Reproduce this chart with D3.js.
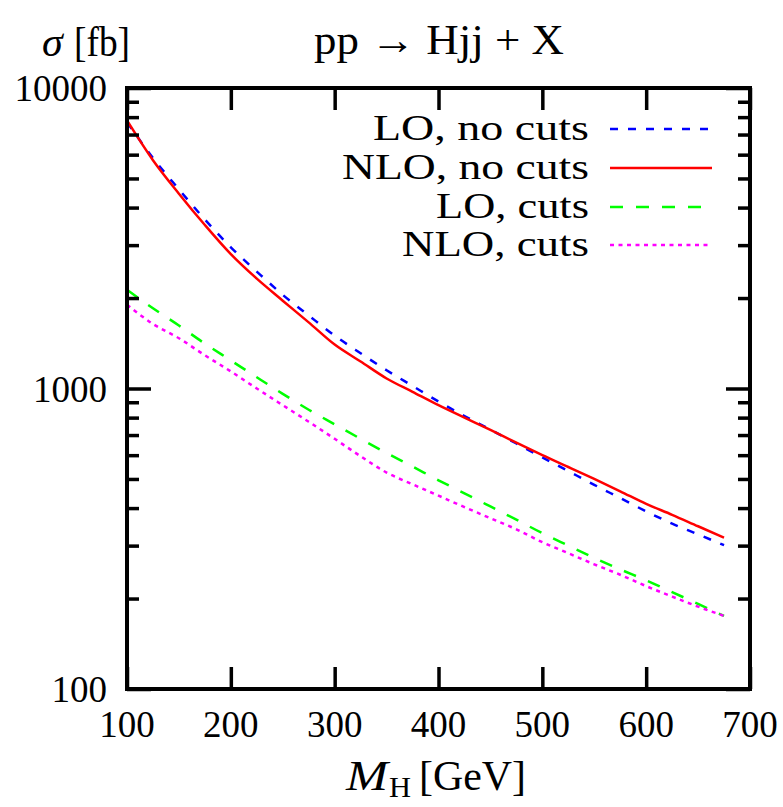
<!DOCTYPE html>
<html><head><meta charset="utf-8">
<script src="https://cdn.jsdelivr.net/npm/d3@7"></script>
<style>body{margin:0;background:#fff}svg{display:block}</style>
</head><body>
<svg id="c" width="783" height="807"></svg>
<script>
const massH = [100,125,150,175,200,225,250,275,300,325,350,375,400,425,450,475,500,525,550,575,600,625,650,675];
const loNoCuts  = [7700,5850,4600,3650,2950,2450,2050,1750,1500,1310,1150,1020,905,810,730,656,590,531,478,432,390,355,327,301];
const nloNoCuts = [7800,5750,4450,3500,2800,2320,1960,1660,1400,1230,1080,975,880,800,728,660,600,548,500,455,413,380,348,319];
const loCuts    = [2130,1850,1620,1410,1240,1090,960,850,760,680,610,550,495,448,405,366,330,300,273,250,230,210,192,175];
const nloCuts   = [1900,1640,1470,1290,1140,1000,880,775,680,595,525,480,440,403,370,340,308,283,260,240,220,203,188,175];
const xTicks = [100,200,300,400,500,600,700];
const yTicks = [100,1000,10000];
const seriesNames = ["LO, no cuts","NLO, no cuts","LO, cuts","NLO, cuts"];
const seriesData = [loNoCuts, nloNoCuts, loCuts, nloCuts];
const seriesColors = ["#0000ff","#ff0000","#00ff00","#ff00ff"];
const seriesDash = ["8,10",null,"13,13","4,4.5"];

const L=127, T=88, R=750, B=689;
const font = "'Liberation Serif', 'DejaVu Serif', serif";
const svg = d3.select("#c");
const x = d3.scaleLinear().domain([100,700]).range([L,R]);
const y = d3.scaleLog().domain([100,10000]).range([B,T]);

const minor = [];
for (let d=100; d<10000; d*=10) for (let k=2;k<=9;k++) minor.push(d*k);

const g = svg.append("g");
const line = d3.line().curve(d3.curveMonotoneX).x((d,i)=>x(massH[i])).y(d=>y(d));
seriesData.forEach((s,i)=>{
  g.append("path").attr("d", line(s)).attr("fill","none")
   .attr("stroke", seriesColors[i]).attr("stroke-width", 2.5)
   .attr("stroke-dasharray", seriesDash[i]);
});

const tk = 3.5;
function ax(gen, tx, ty){ const a=svg.append("g").attr("transform",`translate(${tx},${ty})`).call(gen);
  a.select(".domain").remove(); a.selectAll("line").attr("stroke","#000").attr("stroke-width",tk); a.selectAll("text").remove(); return a; }
ax(d3.axisBottom(x).tickValues(xTicks).tickSize(-22), 0, B);
ax(d3.axisTop(x).tickValues(xTicks).tickSize(-22), 0, T);
ax(d3.axisLeft(y).tickValues(yTicks).tickSize(-24), L, 0);
ax(d3.axisRight(y).tickValues(yTicks).tickSize(-24), R, 0);
ax(d3.axisLeft(y).tickValues(minor).tickSize(-12), L, 0);
ax(d3.axisRight(y).tickValues(minor).tickSize(-12), R, 0);

svg.append("rect").attr("x",L).attr("y",T).attr("width",R-L).attr("height",B-T)
  .attr("fill","none").attr("stroke","#000").attr("stroke-width",4);

// tick labels
svg.append("g").selectAll("text").data(xTicks).join("text")
  .attr("x",d=>x(d)).attr("y",737).attr("text-anchor","middle")
  .attr("font-family",font).attr("font-size",37).text(d=>d);
svg.append("g").selectAll("text").data(yTicks).join("text")
  .attr("x",107).attr("y",d=>y(d)+13).attr("text-anchor","end")
  .attr("font-family",font).attr("font-size",37).text(d=>d);

// titles
svg.append("text").attr("x",314).attr("y",54)
  .attr("font-family",font).attr("font-size",42)
  .attr("textLength",250).attr("lengthAdjust","spacingAndGlyphs").text("pp \u2192 Hjj + X");
svg.append("text").attr("x",42).attr("y",56).attr("font-family",font).attr("font-size",42)
  .attr("font-style","italic").text("\u03C3");
svg.append("text").attr("x",74).attr("y",56).attr("font-family",font).attr("font-size",42)
  .attr("textLength",56).attr("lengthAdjust","spacingAndGlyphs").text("[fb]");
svg.append("text").attr("x",346).attr("y",790).attr("font-family",font).attr("font-size",42)
  .attr("font-style","italic").attr("textLength",42).attr("lengthAdjust","spacingAndGlyphs").text("M");
svg.append("text").attr("x",389).attr("y",797).attr("font-family",font).attr("font-size",30)
  .attr("textLength",22).attr("lengthAdjust","spacingAndGlyphs").text("H");
svg.append("text").attr("x",419).attr("y",790).attr("font-family",font).attr("font-size",42)
  .attr("textLength",107).attr("lengthAdjust","spacingAndGlyphs").text("[GeV]");

// legend
const legY = [129,168,207,245];
const legW = [216,247,153,187];
seriesNames.forEach((n,i)=>{
  svg.append("text").attr("x",589-legW[i]).attr("y",legY[i]+11)
    .attr("font-family",font).attr("font-size",35)
    .attr("textLength",legW[i]).attr("lengthAdjust","spacingAndGlyphs").text(n);
  svg.append("line").attr("x1",610).attr("x2",712).attr("y1",legY[i]).attr("y2",legY[i])
    .attr("stroke",seriesColors[i]).attr("stroke-width",2.5).attr("stroke-dasharray",seriesDash[i]);
});
</script>
</body></html>
